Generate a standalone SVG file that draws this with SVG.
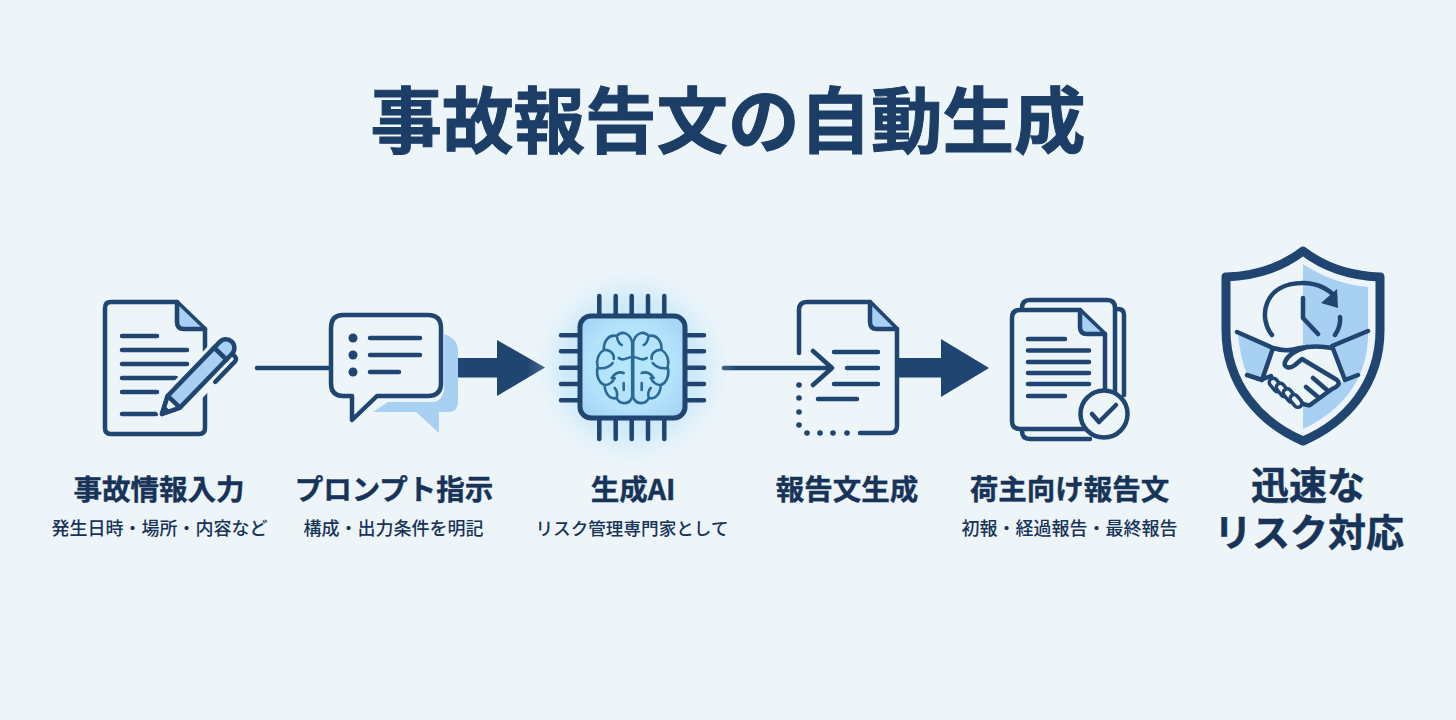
<svg xmlns="http://www.w3.org/2000/svg" width="1456" height="720" viewBox="0 0 1456 720">
<style>
.s{fill:none;stroke:#1f4570;stroke-width:4.5;stroke-linecap:round;stroke-linejoin:round}
.t{font-family:"Noto Sans CJK JP","Noto Sans",sans-serif;fill:#173358;text-anchor:middle}
.h{font-size:28.5px;font-weight:700;stroke:#173358;stroke-width:.4px}
.u{font-size:18px;font-weight:500}
.l{fill:#a8d0f3}
.d{fill:#1f4570}
.br{fill:none;stroke:#2b6a96;stroke-width:2.6;stroke-linecap:round;stroke-linejoin:round}
</style>
<defs>
<radialGradient id="glow" cx="632" cy="367" r="105" gradientUnits="userSpaceOnUse">
<stop offset="0" stop-color="#8fd0fa" stop-opacity=".8"/><stop offset=".65" stop-color="#b0e0fb" stop-opacity=".45"/><stop offset="1" stop-color="#d8eefb" stop-opacity="0"/>
</radialGradient>
<radialGradient id="chip" cx="632" cy="367" r="72" gradientUnits="userSpaceOnUse">
<stop offset="0" stop-color="#b4e8fc"/><stop offset=".6" stop-color="#b4e2fb"/><stop offset="1" stop-color="#a0cff3"/>
</radialGradient>
<path id="brain" class="br" d="M-0.500 342C-3 333-11 330-16 336C-23 334-29 340-29 350C-34 353-37 360-35 367C-37 375-34 383-28 385C-28 393-23 400-16 398C-13 405-3 405-0.500 397ZM-29 350C-23 349-18 354-19 359M-35 368C-28 369-23 367-20 363M-0.500 357C-6 357-9 362-14 358M-9 373C-14 371-19 374-21 378M-28 385C-23 385-20 382-18 378M-9 383V390M-16 398C-15 393-16 390-18 388M-16 336C-15 341-14 344-11 345"/>
</defs>
<rect width="1456" height="720" fill="#eef5f9"/>
<text id="title" class="t" x="728" y="147" font-size="71.500" font-weight="700" fill="#1b3d66" stroke="#1b3d66" stroke-width="1" style="fill:#1b3d66">事故報告文の自動生成</text>

<g id="connectors">
<path class="s" d="M257 368H329" stroke-width="5"/>
<rect class="d" x="458" y="358" width="42" height="19.500"/>
<path class="d" d="M497 340L545 367.500L497 396Z"/>
<path class="s" d="M724 368H831M813 351L832 368L813 385"/>
<rect class="d" x="896" y="358" width="48" height="19.500"/>
<path class="d" d="M941 339L989 368L941 397Z"/>
</g>

<g id="node-input">
<path class="s" d="M111 302H177L205 329V428Q205 434 199 434H111Q105 434 105 428V308Q105 302 111 302Z"/>
<path class="l" d="M178 305L202 328H184Q178 328 178 322Z"/>
<path class="s" d="M177 302V322Q177 329 184 329H205"/>
<path class="s" d="M122 336H157M122 350H187M122 364H187M122 378H176M122 392H157M122 414H156"/>
<g transform="translate(162 414) rotate(-46)">
<rect x="-3" y="-14" width="116" height="32" rx="13" fill="#eef5f9"/>
<path d="M0 0L17 -8.500H84V8.500H17Z" class="l" stroke="#1f4570" stroke-width="4.500" stroke-linejoin="round"/>
<path d="M0 0L17 -8.500V8.500Z" fill="#eef5f9" stroke="#1f4570" stroke-width="4.500" stroke-linejoin="round"/>
<path d="M1 0L8 -3.500V3.500Z" class="d"/>
<path d="M84 -8.500H92A8.500 8.500 0 0 1 92 8.500H84Z" class="l" stroke="#1f4570" stroke-width="4.500"/>
<path class="s" d="M60 16H88Q93 16 92 9"/>
</g>
</g>

<g id="node-prompt">
<path class="l" d="M373 412L388 402H432Q442 402 444 390V334Q458 338 458 352V402Q458 412 448 412H439V433L416 412Z"/>
<path d="M343 315H428Q441 315 441 328V383Q441 396 428 396H377L352 420V396H343Q331 396 331 383V328Q331 315 343 315Z" fill="#eef5f9" stroke="#1f4570" stroke-width="4.500" stroke-linejoin="round"/>
<g class="d"><circle cx="353" cy="338" r="4.500"/><circle cx="353" cy="355" r="4.500"/><circle cx="353" cy="372" r="4.500"/></g>
<path class="s" d="M370 338H420M370 355H420M370 372H399"/>
</g>

<g id="node-ai">
<circle cx="632" cy="367" r="105" fill="url(#glow)"/>
<path class="s" stroke-width="5" d="M599.300 296V316M615.700 296V316M631.700 296V316M648 296V316M664.300 296V316M599.300 418V439M615.700 418V439M631.700 418V439M648 418V439M664.300 418V439M561 335.300H580M561 351.300H580M561 367.700H580M561 384H580M561 400.300H580M685 335.300H704M685 351.300H704M685 367.700H704M685 384H704M685 400.300H704"/>
<rect x="580" y="316" width="105" height="102" rx="11" fill="url(#chip)" stroke="#1f4570" stroke-width="5"/>
<g transform="translate(632.700 0)">
<use href="#brain"/>
<use href="#brain" transform="scale(-1 1)"/>
</g>
</g>

<g id="node-report">
<path class="s" d="M799 353V310Q799 302 807 302H870L897 329V426Q897 433 890 433H860"/>
<path class="l" d="M872 306L893 327H877Q872 327 872 322Z"/>
<path class="s" d="M870 302V322Q870 329 877 329H897"/>
<g class="d"><circle cx="799" cy="385" r="2.800"/><circle cx="799" cy="398" r="2.800"/><circle cx="799" cy="412" r="2.800"/><circle cx="799" cy="425" r="2.800"/><circle cx="807" cy="433" r="2.800"/><circle cx="820" cy="433" r="2.800"/><circle cx="833" cy="433" r="2.800"/><circle cx="847" cy="433" r="2.800"/></g>
<path class="s" d="M834 352H878M847 368H878M834 384H878M818 399H857"/>
</g>

<g id="node-letter">
<path class="s" d="M1115 309H1118Q1124 309 1124 315V395M1022 310V308Q1022 300 1030 300H1107Q1115 300 1115 308V395M1022 429V431Q1022 439 1030 439H1090"/>
<path d="M1020 310H1080L1105 334V421Q1105 429 1097 429H1020Q1012 429 1012 421V318Q1012 310 1020 310Z" fill="#eef5f9" stroke="#1f4570" stroke-width="4.500" stroke-linejoin="round"/>
<path class="l" d="M1082 314L1101 332H1087Q1082 332 1082 327Z"/>
<path class="s" d="M1080 310V327Q1080 334 1087 334H1105"/>
<path class="s" d="M1028 339H1065M1028 350.500H1089M1028 362H1089M1028 373H1089M1028 384H1089M1028 396H1065"/>
<circle cx="1104" cy="414" r="23.500" fill="#eef5f9" stroke="#1f4570" stroke-width="4.500"/>
<path class="s" d="M1092 414L1099 422L1116 405"/>
</g>

<g id="node-shield">
<path class="l" d="M1303 264C1325 278 1345 285 1368 287V335C1368 380 1340 412 1303 429Z"/>
<path class="l" d="M1238 335L1273 348L1262 380L1247 375Q1240 356 1238 335Z"/>
<path d="M1303 251C1325 268 1352 276 1380 277V330C1380 385 1345 423 1303 441C1261 423 1226 385 1226 330V277C1254 276 1281 268 1303 251Z" fill="none" stroke="#1f4570" stroke-width="9" stroke-linejoin="round"/>
<path class="s" d="M1272 335C1258 318 1263 283 1303 283C1318 283 1330 290 1335 297M1340 317Q1341 326 1335 335M1303 298V318L1318 334"/>
<path class="d" d="M1337 289L1338 308L1321 303Z"/>
<path fill="#eef5f9" d="M1273 348C1290 352 1310 347 1332 346L1345 380L1320 398L1303 406L1262 380Z"/>
<path class="s" d="M1237 332L1273 348L1262 380L1247 375M1368 331L1332 346L1345 380L1358 375M1273 348C1285 352 1294 350 1300 348C1310 346 1322 346 1332 348M1307 347C1296 350 1288 355 1285 362C1283 368 1290 369 1295 365L1302 359L1337 380C1341 384 1337 387 1332 389L1310 405C1306 406 1303 404 1300 402M1263 379L1271 376M1313 378L1327 390M1306 387L1318 397"/>
<g fill="#eef5f9" stroke="#1f4570" stroke-width="3.500">
<rect x="1268" y="381" width="15" height="8" rx="4" transform="rotate(50 1275.500 385)"/>
<rect x="1275" y="386" width="15" height="8" rx="4" transform="rotate(50 1282.500 390)"/>
<rect x="1282" y="391.500" width="15" height="8" rx="4" transform="rotate(50 1289.500 395.500)"/>
<rect x="1289" y="397" width="14" height="8" rx="4" transform="rotate(50 1296 401)"/>
</g>
</g>

<g id="labels">
<g id="label-input"><text class="t h" x="159" y="500">事故情報入力</text><text class="t u" x="159.500" y="535">発生日時・場所・内容など</text></g>
<g id="label-prompt"><text class="t h" x="394" y="500">プロンプト指示</text><text class="t u" x="393.500" y="535">構成・出力条件を明記</text></g>
<g id="label-ai"><text class="t h" x="633" y="500">生成AI</text><text class="t u" x="632" y="535" font-size="17.600" style="font-size:17.600px">リスク管理専門家として</text></g>
<g id="label-report"><text class="t h" x="847" y="500">報告文生成</text></g>
<g id="label-letter"><text class="t h" x="1069.500" y="500">荷主向け報告文</text><text class="t u" x="1069.500" y="535">初報・経過報告・最終報告</text></g>
<g id="label-shield"><text class="t" font-size="38" font-weight="700" stroke="#173358" stroke-width=".5"><tspan x="1308" y="499">迅速な</tspan><tspan x="1309" y="546">リスク対応</tspan></text></g>
</g>
</svg>
